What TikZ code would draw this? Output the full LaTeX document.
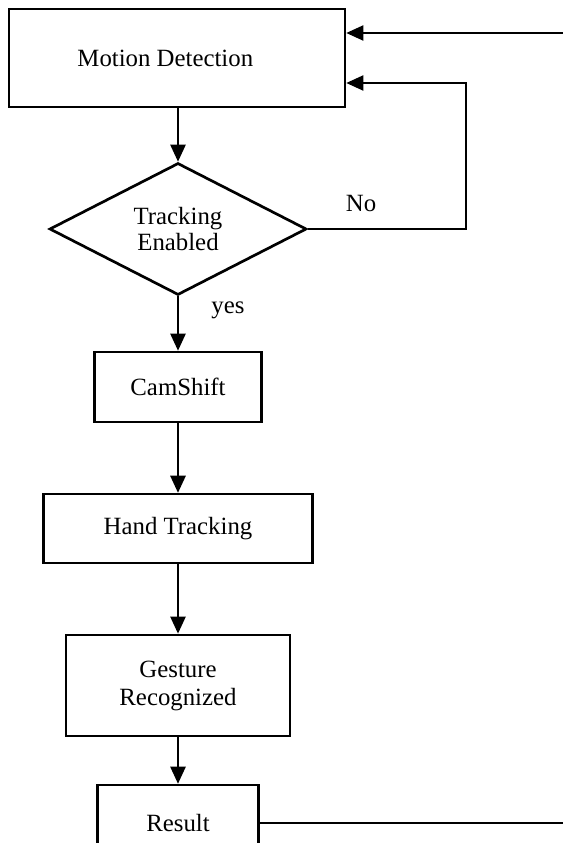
\documentclass[tikz,border=0pt]{standalone}
\usepackage{fontspec}
\setmainfont{Liberation Serif}
\usepackage{tikz}
\usetikzlibrary{arrows.meta,positioning,shapes.geometric,calc}
\tikzset{
  procbox/.style={draw=black, line width=1.3pt, align=center, font=\fontsize{12}{13.5}\selectfont, inner sep=0pt},
  decbox/.style={draw=black, line width=1.3pt, diamond, align=center, font=\fontsize{12}{12.5}\selectfont, inner sep=0pt, minimum width=4.37cm, minimum height=1.82cm},
  arrflow/.style={-{Triangle[length=2.9mm, width=2.6mm]}, line width=0.85pt},
  retorno/.style={line width=0.6pt},
  etiqueta/.style={font=\fontsize{12}{14}\selectfont},
}

\begin{document}
\begin{tikzpicture}
\useasboundingbox (0,0) rectangle (9.571,-14.331);
% Cadena principal
\node[procbox, minimum width=5.71cm, minimum height=1.67cm] (md) at (3.01,-0.986) {\hspace*{-4mm}Motion Detection};
\node[decbox] (dec) at (3.026,-3.893) {Tracking\\Enabled};
\node[procbox, minimum width=2.84cm, minimum height=1.19cm] (cam) at (3.026,-6.579) {CamShift};
\node[procbox, minimum width=4.57cm, minimum height=1.17cm] (hand) at (3.026,-8.985) {Hand Tracking};
\node[procbox, minimum width=3.81cm, minimum height=1.72cm] (gest) at (3.026,-11.654) {Gesture\\Recognized};
\node[procbox, minimum width=2.74cm, minimum height=1.29cm] (res) at (3.026,-13.991) {Result};

% Etiquetas
\node[etiqueta] (no) at (6.137,-3.451) {No};
\node[etiqueta] (yes) at (3.876,-5.27) {yes};

% Puntos de retorno
\coordinate (loop) at (7.922,-1.411);
\coordinate (inr) at (9.571,-0.561);
\coordinate (outr) at (9.571,-13.991);

\draw[arrflow] (dec.north |- md.south) -- (dec);
\draw[arrflow] (dec) -- (cam);
\draw[arrflow] (cam) -- (hand);
\draw[arrflow] (hand) -- (gest);
\draw[arrflow] (gest) -- (res);

\draw[retorno, -{Triangle[length=2.9mm, width=2.6mm]}] (dec.east) -| (loop) -- (loop -| md.east);
\draw[retorno, -{Triangle[length=2.9mm, width=2.6mm]}] (inr) -- (inr -| md.east);
\draw[retorno] (res.east) -- (outr);
\end{tikzpicture}
\end{document}
